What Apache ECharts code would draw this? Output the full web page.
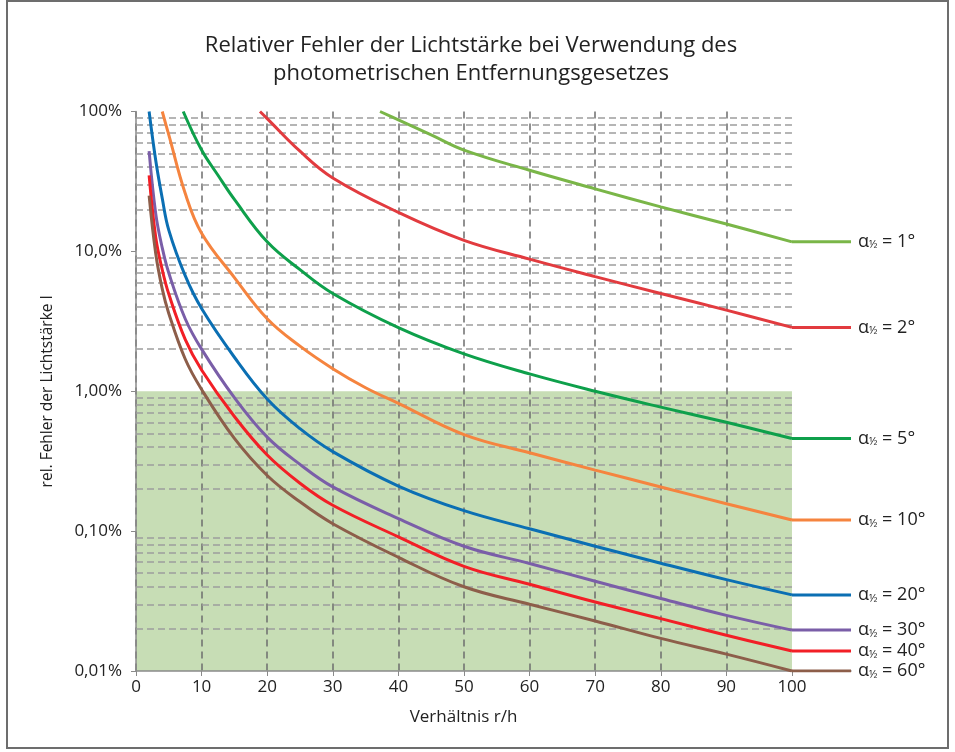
<!DOCTYPE html>
<html>
<head>
<meta charset="utf-8">
<script src="https://cdn.jsdelivr.net/npm/echarts@6/dist/echarts.min.js"></script>
<style>html,body{margin:0;padding:0;background:#fff}#c{width:955px;height:752px}</style>
</head>
<body>
<div id="c"></div>
<script>
// ---- data (x = r/h, y = relative error in %) ----
const alpha1  = [[37.2,100],[40,87],[45,68],[50,53],[60,38],[70,28],[80,20.8],[90,15.7],[100,11.7]];
const alpha2  = [[18.9,100],[20,89],[25,52],[30,33.5],[40,19],[50,12],[60,8.8],[70,6.6],[80,5.0],[90,3.8],[100,2.86]];
const alpha5  = [[7.2,100],[10,53],[12.5,35],[15,23.5],[20,11.7],[25,7.4],[30,5.0],[40,2.85],[50,1.85],[60,1.33],[70,1.0],[80,0.77],[90,0.6],[100,0.46]];
const alpha10 = [[4.0,100],[5,68],[7.5,26],[10,13.5],[15,6.5],[20,3.3],[25,2.1],[30,1.45],[35,1.06],[40,0.82],[50,0.49],[60,0.363],[70,0.273],[80,0.207],[90,0.157],[100,0.12]];
const alpha20 = [[2,100],[3,45],[4,24],[5,14.2],[7.5,6.7],[10,3.9],[15,1.75],[20,0.88],[25,0.54],[30,0.37],[40,0.21],[50,0.14],[60,0.104],[70,0.078],[80,0.059],[90,0.045],[100,0.035]];
const alpha30 = [[2,52],[3,18.7],[4,10.6],[5,7.0],[7.5,3.3],[10,2.0],[15,0.9],[20,0.47],[25,0.3],[30,0.207],[40,0.123],[50,0.078],[60,0.0587],[70,0.0438],[80,0.033],[90,0.025],[100,0.0196]];
const alpha40 = [[2,35],[3,12.7],[4,7.4],[5,4.95],[7.5,2.35],[10,1.42],[15,0.66],[20,0.35],[25,0.22],[30,0.153],[40,0.091],[50,0.056],[60,0.0417],[70,0.0311],[80,0.0237],[90,0.018],[100,0.0139]];
const alpha60 = [[2,25],[3,9.7],[4,5.4],[5,3.6],[7.5,1.7],[10,1.03],[15,0.46],[20,0.25],[25,0.162],[30,0.113],[40,0.065],[50,0.04],[60,0.030],[70,0.0228],[80,0.0171],[90,0.0132],[100,0.01]];
const seriesLabels = ['1°','2°','5°','10°','20°','30°','40°','60°'];
const xTickValues = [0,10,20,30,40,50,60,70,80,90,100];
const yTickValues = [0.01, 0.1, 1, 10, 100];
const yTickLabels = ['0,01%', '0,10%', '1,00%', '10,0%', '100%'];
const minorGridValues = [0.02,0.03,0.04,0.05,0.06,0.07,0.08,0.09,
                         0.2,0.3,0.4,0.5,0.6,0.7,0.8,0.9,
                         2,3,4,5,6,7,8,9,
                         20,30,40,50,60,70,80,90];
const acceptRange = [0.01, 1];   // shaded range (%)
const plotEnd = 100;             // end of the gridded area
const extendTo = 109;            // flat continuation to the labels

// ---- styles ----
const colors = ['#7ab648','#e23b3f','#0ea04b','#f5843f','#0b6fb3','#7a5ea8','#f21f26','#8d5e4a'];
const allData = [alpha1, alpha2, alpha5, alpha10, alpha20, alpha30, alpha40, alpha60];

const series = [];
allData.forEach((d, i) => {
  const s = {
    type: 'line', data: d, smooth: 0.4, showSymbol: false, symbol: 'none',
    lineStyle: { color: colors[i], width: 3 }, itemStyle: { color: colors[i] }, z: 4, silent: true
  };
  if (i === 0) {
    s.markArea = {
      silent: true, z: -1,
      itemStyle: { color: '#c7ddb5' },
      data: [[{ xAxis: 0, yAxis: acceptRange[0] }, { xAxis: plotEnd, yAxis: acceptRange[1] }]]
    };
    s.markLine = {
      silent: true, z: 1, symbol: 'none', label: { show: false },
      lineStyle: { color: '#9d9d9d', type: [7, 4], width: 1.5 },
      data: minorGridValues.map(v => [{ xAxis: 0, yAxis: v }, { xAxis: plotEnd, yAxis: v }])
    };
  }
  series.push(s);
  const last = d[d.length - 1];
  series.push({
    type: 'line', data: [[last[0], last[1]], [extendTo, last[1]]], showSymbol: false, symbol: 'none',
    lineStyle: { color: colors[i], width: 3 }, itemStyle: { color: colors[i] }, z: 4, silent: true,
    endLabel: {
      show: true, distance: 7,
      formatter: '{a|α}{s|½}{a| = ' + seriesLabels[i] + '}',
      rich: {
        a: { fontSize: 18, color: '#222', fontFamily: 'Open Sans' },
        s: { fontSize: 11, color: '#222', fontFamily: 'Open Sans', verticalAlign: 'bottom' }
      }
    }
  });
});

const chart = echarts.init(document.getElementById('c'), null, { renderer: 'canvas' });
chart.setOption({
  animation: false,
  backgroundColor: '#fff',
  textStyle: { fontFamily: 'Open Sans' },
  title: {
    text: 'Relativer Fehler der Lichtstärke bei Verwendung des\nphotometrischen Entfernungsgesetzes',
    left: 466, top: 27, textAlign: 'center',
    textStyle: { fontSize: 22, fontWeight: 'normal', color: '#222', lineHeight: 28, fontFamily: 'Open Sans' }
  },
  grid: { left: 136, right: 104, top: 111.5, bottom: 81, containLabel: false },
  xAxis: {
    type: 'value', min: 0, max: extendTo, interval: 10,
    name: 'Verhältnis r/h', nameLocation: 'start', nameGap: 0,
    nameTextStyle: { fontSize: 17, color: '#222', align: 'center', verticalAlign: 'top', padding: [38, 0, 0, 655] },
    axisLine: { lineStyle: { color: '#8a8a8a', width: 1.5 } },
    axisTick: { show: true, length: 5, customValues: xTickValues, lineStyle: { color: '#8a8a8a' } },
    minorTick: { show: false },
    axisLabel: {
      fontSize: 17, color: '#222', margin: 8, customValues: xTickValues,
      formatter: v => (xTickValues.indexOf(v) >= 0 ? String(v) : '')
    },
    splitLine: { show: true, showMaxLine: false, lineStyle: { color: '#6e6e6e', type: [7, 5], width: 1.5 } }
  },
  yAxis: {
    type: 'log', logBase: 10, min: 0.01, max: 100,
    name: 'rel. Fehler der Lichtstärke I', nameLocation: 'middle', nameGap: 80,
    nameTextStyle: { fontSize: 15.5, color: '#222' },
    axisLine: { show: true, lineStyle: { color: '#8a8a8a', width: 1.5 } },
    axisTick: { show: true, length: 5, lineStyle: { color: '#8a8a8a' } },
    axisLabel: {
      fontSize: 17, color: '#222', margin: 14,
      formatter: v => {
        const idx = yTickValues.findIndex(t => Math.abs(Math.log10(t) - Math.log10(v)) < 1e-6);
        return idx >= 0 ? yTickLabels[idx] : '';
      }
    },
    splitLine: { show: false }
  },
  graphic: [{
    type: 'rect', silent: true, z: 100,
    shape: { x: 7, y: 1, width: 941, height: 747 },
    style: { fill: 'none', stroke: '#6d6d6d', lineWidth: 2 }
  }],
  series: series
});
</script>
</body>
</html>
